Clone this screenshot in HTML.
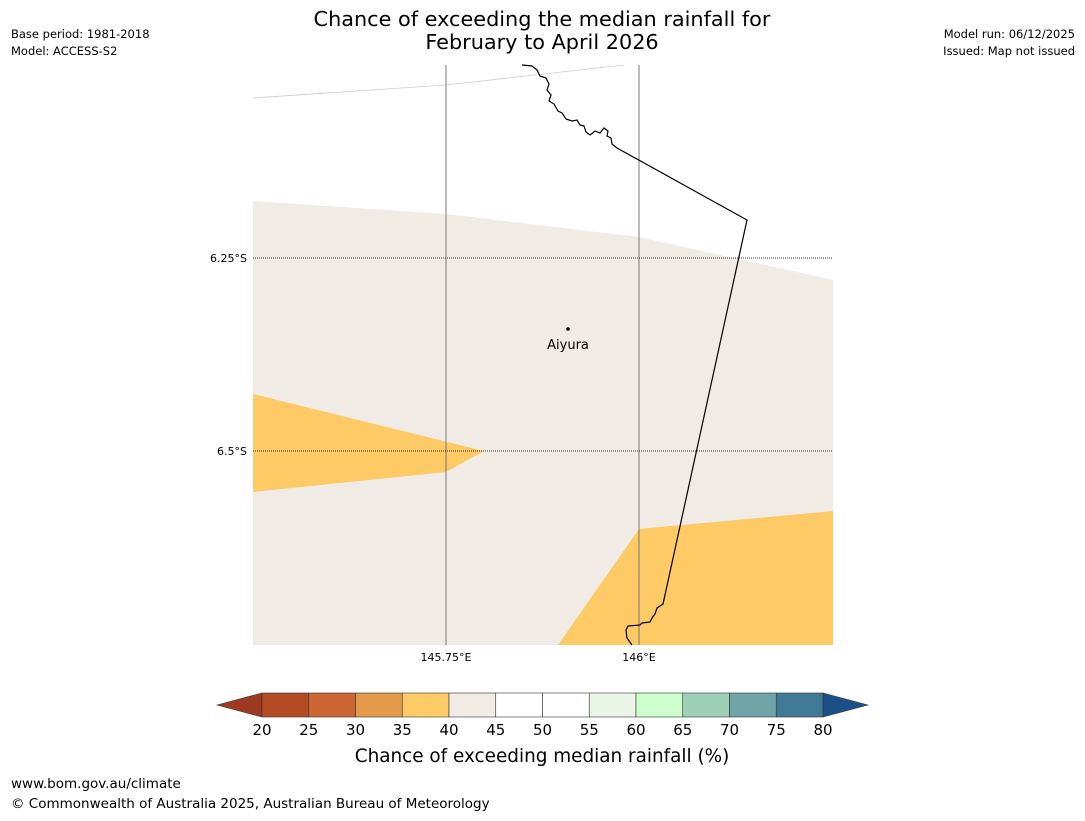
<!DOCTYPE html>
<html><head><meta charset="utf-8"><style>
body{margin:0;background:#fff;width:1085px;height:816px;overflow:hidden;font-family:"Liberation Sans","DejaVu Sans",sans-serif}
svg text{font-family:"DejaVu Sans","Liberation Sans",sans-serif}
</style></head><body>
<svg width="1085" height="816" viewBox="0 0 1085 816">
<text x="542" y="26" font-size="20.8" text-anchor="middle">Chance of exceeding the median rainfall for</text>
<text x="542" y="49" font-size="20.8" text-anchor="middle">February to April 2026</text>
<text x="11" y="38" font-size="11.5">Base period: 1981-2018</text>
<text x="11" y="55" font-size="11.5">Model: ACCESS-S2</text>
<text x="1075" y="38" font-size="11.5" text-anchor="end">Model run: 06/12/2025</text>
<text x="1075" y="55" font-size="11.5" text-anchor="end">Issued: Map not issued</text>
<g>
<polygon points="253,201 446,214 639,237 833,280 833,645 253,645" fill="#f0ebe5"/>
<polygon points="253,394 484,451 446,472 253,492" fill="#fdca66"/>
<polygon points="558,645 639,529 833,511 833,645" fill="#fdca66"/>
<polyline points="253,98 446,85 624,65" fill="none" stroke="#ccc" stroke-width="0.8"/>
<line x1="446" y1="65" x2="446" y2="645" stroke="#777" stroke-width="1"/>
<line x1="639" y1="65" x2="639" y2="645" stroke="#777" stroke-width="1"/>
<line x1="253" y1="258" x2="833" y2="258" stroke="#000" stroke-width="0.8" stroke-dasharray="1,1"/>
<line x1="253" y1="451" x2="833" y2="451" stroke="#000" stroke-width="0.8" stroke-dasharray="1,1"/>
<path d="M522,65 L532,66 L537,70 L540,76 L546,78 L549,84 L547,90 L551,95 L549,101 L554,104 L558,111 L562,113 L566,119 L572,121 L577,120 L580,125 L584,126 L586,132 L590,135 L595,131 L600,133 L604,128 L608,131 L607,136 L611,138 L612,144 L617,148 L747,220 L663,604 L657,608 L655,614 L652,618 L650,622 L642,623 L640,625 L628,626 L626,630 L627,638 L632,645" fill="none" stroke="#000" stroke-width="1.2"/>
<circle cx="568" cy="329" r="1.8" fill="#000"/>
<text x="568" y="349" font-size="13" text-anchor="middle">Aiyura</text>
</g>
<text x="247" y="262" font-size="11" text-anchor="end">6.25°S</text>
<text x="247" y="455" font-size="11" text-anchor="end">6.5°S</text>
<text x="446" y="661" font-size="11" text-anchor="middle">145.75°E</text>
<text x="639" y="661" font-size="11" text-anchor="middle">146°E</text>
<g id="cbar"></g>
<text x="542" y="762" font-size="18.4" text-anchor="middle">Chance of exceeding median rainfall (%)</text>
<text x="11" y="788" font-size="13.5">www.bom.gov.au/climate</text>
<text x="11" y="808" font-size="13.5">© Commonwealth of Australia 2025, Australian Bureau of Meteorology</text>
</svg>
<script>
const ticks=[20,25,30,35,40,45,50,55,60,65,70,75,80];
const binColors=["#b34b24","#cc6633","#e39a4a","#fdca66","#f0ebe5","#ffffff","#ffffff","#eaf5e8","#ccffcc","#9ecfb8","#6fa5a8","#3f7a96"];
const lowColor="#9e3a22", highColor="#1a4f87";
const NS="http://www.w3.org/2000/svg";
const g=document.getElementById('cbar');
const x0=262,x1=823,y0=693,y1=717;
function sx(v){return x0+(v-ticks[0])/(ticks[ticks.length-1]-ticks[0])*(x1-x0);}
function mk(t,a){const e=document.createElementNS(NS,t);for(const k in a)e.setAttribute(k,a[k]);g.appendChild(e);return e;}
let l=mk('polygon',{points:`217,705 ${x0},${y0} ${x0},${y1}`,fill:lowColor,stroke:'#333','stroke-width':0.6});


let r=mk('polygon',{points:`868,705 ${x1},${y0} ${x1},${y1}`,fill:highColor,stroke:'#333','stroke-width':0.6});


for(let i=0;i<binColors.length;i++){
 const a=sx(ticks[i]),b=sx(ticks[i+1]);
 const rc=mk('rect',{x:a,y:y0,width:b-a,height:y1-y0,fill:binColors[i],stroke:'#333','stroke-width':0.6});
 
 
}
ticks.forEach(v=>{
 const t=mk('text',{x:sx(v),y:735,'font-size':15,'text-anchor':'middle'});
 t.textContent=v;
 
 
});
</script>
</body></html>
